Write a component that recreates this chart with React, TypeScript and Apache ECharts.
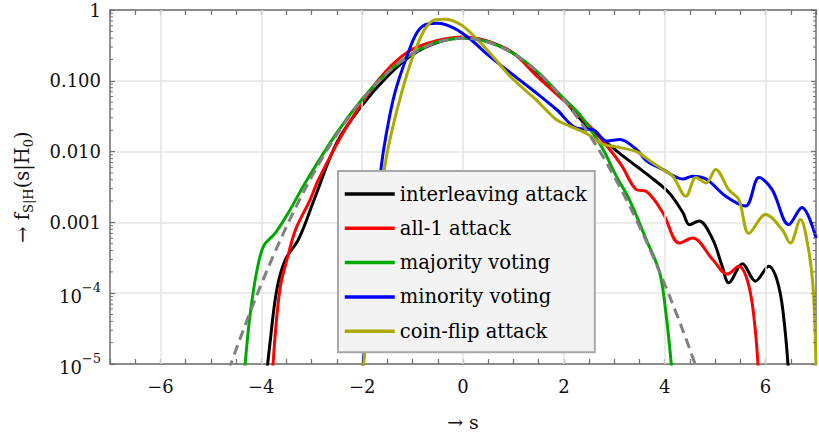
import React, { useEffect, useRef } from 'react';
import * as echarts from 'echarts';

const FONT = '"DejaVu Serif", serif';

// axis tick labels
const xTickValues = [-6, -4, -2, 0, 2, 4, 6];
const yTickValues = [1, 0.1, 0.01, 0.001, 1e-4, 1e-5];
const yTickTexts = ['1', '0.100', '0.010', '0.001', '{b|10}{sup|−4}', '{b|10}{sup|−5}'];
const minorMultipliers = [2, 3, 4, 5, 6, 7, 8, 9];
const minorDecades = [1e-5, 1e-4, 1e-3, 1e-2, 1e-1];

const seriesNames = ['interleaving attack', 'all-1 attack', 'majority voting', 'minority voting', 'coin-flip attack'];

// [s, f(s|H0)]
const interleaving = [
  [-3.93, 4e-6], [-3.82, 2.2e-5], [-3.69, 1.15e-4], [-3.52, 3.0e-4], [-3.26, 5.8e-4], [-2.93, 2.3e-3],
  [-2.5, 0.0135], [-2.0, 0.045], [-1.5, 0.115], [-1.0, 0.235], [-0.5, 0.35], [0, 0.41], [0.5, 0.36],
  [1.0, 0.245], [1.47, 0.13], [2.0, 0.054], [2.45, 0.023], [2.78, 0.0148], [3.1, 0.0095], [3.44, 0.0062],
  [3.77, 0.0041], [4.09, 0.0026], [4.36, 0.00138], [4.49, 0.00093], [4.68, 0.00105], [4.95, 0.00058],
  [5.14, 0.00024], [5.27, 0.00014], [5.54, 0.00026], [5.8, 0.000148], [6.06, 0.00024], [6.26, 0.000126],
  [6.39, 0.0000282], [6.48, 4e-6],
];
const allOne = [
  [-3.8, 4e-6], [-3.72, 2.8e-5], [-3.62, 1.26e-4], [-3.49, 3.0e-4], [-3.32, 7.9e-4], [-3.03, 2.1e-3],
  [-2.86, 4.1e-3], [-2.34, 0.0204], [-1.68, 0.102], [-1.09, 0.257], [-0.5, 0.37], [0, 0.415], [0.5, 0.36],
  [1.0, 0.245], [1.47, 0.115], [2.12, 0.0437], [2.58, 0.0204], [2.91, 0.0107], [3.15, 0.0063], [3.44, 0.0029],
  [3.63, 0.00275], [3.96, 0.00138], [4.29, 0.00051], [4.55, 0.0006], [4.95, 0.0003], [5.24, 0.000186],
  [5.47, 0.00024], [5.67, 0.000126], [5.8, 0.0000282], [5.88, 4e-6],
];
const majority = [
  [-4.36, 4e-6], [-4.32, 1e-5], [-4.24, 3.9e-5], [-4.18, 8.3e-5], [-4.08, 2.2e-4], [-3.95, 4.7e-4],
  [-3.72, 7.1e-4], [-3.46, 1.38e-3], [-3.13, 3.6e-3], [-2.5, 0.0185], [-2.0, 0.055], [-1.5, 0.13],
  [-1.0, 0.243], [-0.5, 0.354], [0, 0.4], [0.5, 0.353], [1.0, 0.243], [1.47, 0.135], [2.0, 0.056],
  [2.32, 0.033], [2.58, 0.018], [2.78, 0.0107], [3.04, 0.0045], [3.3, 0.0021], [3.63, 0.00058],
  [3.9, 0.000195], [4.03, 0.000048], [4.13, 1e-5], [4.17, 4e-6],
];
const minority = [
  [-2.02, 4e-6], [-1.98, 1e-5], [-1.86, 1e-4], [-1.73, 1e-3], [-1.62, 6.2e-3], [-1.52, 0.018], [-1.35, 0.068],
  [-1.09, 0.245], [-0.9, 0.495], [-0.7, 0.635], [-0.5, 0.65], [-0.17, 0.55], [0.16, 0.38], [0.5, 0.23],
  [1.0, 0.12], [1.47, 0.066], [1.86, 0.039], [2.26, 0.0214], [2.58, 0.0204], [2.85, 0.0141],
  [3.11, 0.0148], [3.44, 0.0107], [3.63, 0.0075], [3.96, 0.0056], [4.36, 0.0041], [4.55, 0.0045],
  [4.82, 0.0041], [5.21, 0.00234], [5.6, 0.0017], [5.87, 0.0043], [6.13, 0.0029], [6.46, 0.00093],
  [6.72, 0.00162], [7.0, 0.0006],
];
const coinFlip = [
  [-2.0, 4e-6], [-1.97, 1e-5], [-1.83, 1e-4], [-1.69, 1e-3], [-1.55, 6.2e-3], [-1.42, 0.0183], [-1.22, 0.067],
  [-0.995, 0.22], [-0.765, 0.52], [-0.57, 0.72], [-0.37, 0.74], [-0.04, 0.62], [0.29, 0.38], [0.62, 0.21],
  [0.94, 0.115], [1.27, 0.07], [1.47, 0.052], [1.66, 0.038], [1.86, 0.028], [2.12, 0.0229], [2.45, 0.018],
  [2.78, 0.0126], [3.04, 0.0117], [3.44, 0.01], [3.63, 0.0081], [3.77, 0.0069], [3.96, 0.0056],
  [4.16, 0.0045], [4.42, 0.00234], [4.62, 0.0043], [4.82, 0.0036], [5.01, 0.0056], [5.27, 0.0029],
  [5.47, 0.0021], [5.67, 0.0007], [6.0, 0.00129], [6.33, 0.00079], [6.49, 0.00051], [6.69, 0.0011],
  [6.85, 0.00042], [6.95, 0.0001], [7.0, 8e-6],
];
const gaussianRef = [
  [-4.75, 5.05e-6], [-4.5, 1.6e-5], [-4.25, 4.78e-5], [-4.0, 1.34e-4], [-3.75, 3.53e-4], [-3.5, 8.73e-4],
  [-3.25, 2.03e-3], [-3.0, 4.43e-3], [-2.75, 9.09e-3], [-2.5, 0.0175], [-2.25, 0.0317], [-2.0, 0.054],
  [-1.75, 0.0863], [-1.5, 0.1295], [-1.25, 0.1826], [-1.0, 0.242], [-0.75, 0.3011], [-0.5, 0.3521],
  [-0.25, 0.3867], [0, 0.3989], [0.25, 0.3867], [0.5, 0.3521], [0.75, 0.3011], [1.0, 0.242], [1.25, 0.1826],
  [1.5, 0.1295], [1.75, 0.0863], [2.0, 0.054], [2.25, 0.0317], [2.5, 0.0175], [2.75, 9.09e-3], [3.0, 4.43e-3],
  [3.25, 2.03e-3], [3.5, 8.73e-4], [3.75, 3.53e-4], [4.0, 1.34e-4], [4.25, 4.78e-5], [4.5, 1.6e-5],
  [4.75, 5.05e-6],
];

const seriesData = [interleaving, allOne, majority, minority, coinFlip];
const seriesColors = ['#000000', '#ff0000', '#00a800', '#0000ff', '#aaaa00'];

const AXIS_COLOR = '#6e6e6e';
const GRID_COLOR = '#e4e4e4';

export default function App() {
  const ref = useRef<HTMLDivElement>(null);
  useEffect(() => {
    if (!ref.current) return;
    const chart = echarts.init(ref.current, undefined, { renderer: 'svg' });
    const minorTickData = minorDecades.flatMap((d) => minorMultipliers.map((m) => [-7, m * d]));

    const axisLine = { show: true, onZero: false, lineStyle: { color: AXIS_COLOR, width: 1.5 } };
    const axisTick = { show: true, inside: true, length: 5, lineStyle: { color: AXIS_COLOR, width: 1.2 } };

    const xLabel = (v: number) => {
      const r = Math.round(v);
      if (Math.abs(v - r) > 1e-9 || !xTickValues.includes(r)) return '';
      return r < 0 ? '−' + Math.abs(r) : String(r);
    };
    const yLabel = (v: number) => {
      const e = Math.round(Math.log10(v));
      const idx = yTickValues.findIndex((t) => Math.round(Math.log10(t)) === e);
      return idx >= 0 ? yTickTexts[idx] : '';
    };

    const lineSeries: any[] = seriesData.map((d, i) => ({
      name: seriesNames[i],
      type: 'line',
      data: d,
      xAxisIndex: 0,
      yAxisIndex: 0,
      smooth: 0.35,
      showSymbol: false,
      symbol: 'none',
      clip: true,
      z: 3 + i,
      lineStyle: { color: seriesColors[i], width: 3 },
      itemStyle: { color: seriesColors[i] },
    }));

    const option: any = {
      animation: false,
      textStyle: { fontFamily: FONT },
      grid: { left: 110, right: -1, top: 10, bottom: 71 },
      legend: {
        data: seriesNames,
        orient: 'vertical',
        left: 338,
        top: 171,
        z: 100,
        backgroundColor: '#f3f3f3',
        borderColor: '#a8a8a8',
        borderWidth: 2,
        borderRadius: 0,
        padding: [12, 8, 10, 5],
        itemWidth: 50,
        itemHeight: 14,
        itemGap: 12.3,
        selectedMode: false,
        itemStyle: { opacity: 0 },
        lineStyle: { width: 3.5 },
        textStyle: { fontSize: 19.5, color: '#000', fontFamily: FONT, lineHeight: 22 },
      },
      xAxis: [
        {
          type: 'value', min: -7, max: 7, interval: 0.5, position: 'bottom',
          axisLine, axisTick,
          axisLabel: { formatter: xLabel, margin: 13, fontSize: 18, color: '#111', fontFamily: FONT },
          splitLine: { show: false },
          name: '→ s', nameLocation: 'middle', nameGap: 48,
          nameTextStyle: { fontSize: 19, color: '#111', fontFamily: FONT },
        },
        {
          type: 'value', min: -7, max: 7, interval: 0.5, position: 'top',
          axisLine, axisTick, axisLabel: { show: false }, splitLine: { show: false },
        },
      ],
      yAxis: [
        {
          type: 'log', logBase: 10, min: 1e-5, max: 1, splitNumber: 5, position: 'left',
          axisLine, axisTick,
          axisLabel: {
            formatter: yLabel, margin: 9, fontSize: 18, color: '#111', fontFamily: FONT,
            rich: {
              b: { fontSize: 18, fontFamily: FONT, color: '#111', lineHeight: 24, verticalAlign: 'bottom' },
              sup: { fontSize: 13, fontFamily: FONT, color: '#111', lineHeight: 13, verticalAlign: 'top' },
            },
          },
          splitLine: { show: true, lineStyle: { color: GRID_COLOR, width: 1.5 } },
          name: '{a|→ f}{s|S|H}{a|(s|H}{s|0}{a|)}',
          nameLocation: 'middle', nameGap: 75, nameRotate: 90,
          nameTextStyle: {
            fontFamily: FONT,
            rich: {
              a: { fontSize: 19.5, fontFamily: FONT, color: '#111', lineHeight: 26, verticalAlign: 'middle' },
              s: { fontSize: 13, fontFamily: FONT, color: '#111', lineHeight: 12, verticalAlign: 'bottom' },
            },
          },
        },
        {
          type: 'log', logBase: 10, min: 1e-5, max: 1, splitNumber: 5, position: 'right',
          axisLine, axisTick, axisLabel: { show: false }, splitLine: { show: false },
        },
      ],
      series: [
        {
          type: 'line', data: [], xAxisIndex: 0, yAxisIndex: 0, z: 1, silent: true,
          markLine: {
            silent: true, symbol: 'none', label: { show: false },
            lineStyle: { color: GRID_COLOR, width: 1.5, type: 'solid' },
            data: xTickValues.map((v) => ({ xAxis: v })),
          },
        },
        ...lineSeries,
        {
          name: 'N(0,1)', type: 'line', data: gaussianRef, smooth: 0.35, showSymbol: false, symbol: 'none',
          z: 9, lineStyle: { color: '#808080', width: 3, type: [10, 6] },
        },
        {
          type: 'custom', data: minorTickData, xAxisIndex: 0, yAxisIndex: 0, z: 10, silent: true,
          renderItem: (_p: any, api: any) => {
            const v = api.value(1);
            const l = api.coord([-7, v]);
            const r = api.coord([7, v]);
            return {
              type: 'group',
              children: [
                { type: 'line', shape: { x1: l[0], y1: l[1], x2: l[0] + 3, y2: l[1] }, style: { stroke: AXIS_COLOR, lineWidth: 1 } },
                { type: 'line', shape: { x1: r[0] - 3, y1: r[1], x2: r[0], y2: r[1] }, style: { stroke: AXIS_COLOR, lineWidth: 1 } },
              ],
            };
          },
        },
      ],
    };
    chart.setOption(option);
    return () => chart.dispose();
  }, []);
  return <div ref={ref} style={{ position: 'fixed', left: 0, top: 0, width: 819, height: 436, background: '#fff' }} />;
}
